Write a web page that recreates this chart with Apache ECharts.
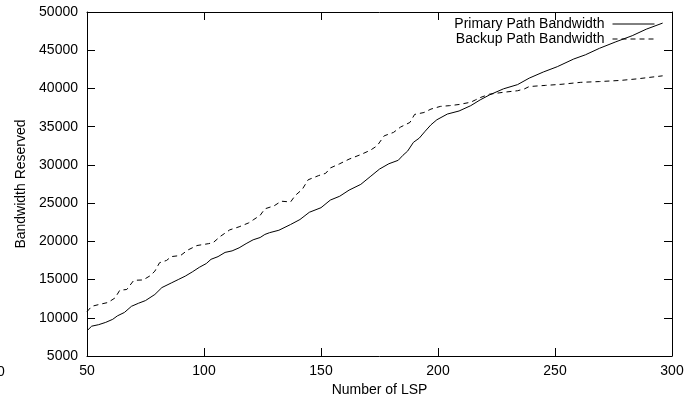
<!DOCTYPE html>
<html>
<head>
<meta charset="utf-8">
<script src="https://cdn.jsdelivr.net/npm/echarts@6/dist/echarts.min.js"></script>
<style>
html, body { margin: 0; padding: 0; background: #fff; }
#chart { width: 699px; height: 402px; }
</style>
</head>
<body>
<div id="chart"></div>
<script>
// LSP count / bandwidth
const lspPrimary = [50, 52, 55, 58, 61, 63, 66, 69, 72, 75, 79, 82, 86, 89, 92, 95, 98, 101, 103, 106,
    109, 112, 115, 118, 121, 124, 126, 128, 132, 137, 141, 145, 150, 154, 158, 162, 167, 171, 175, 179,
    183, 185, 187, 189.5, 192, 194.5, 197, 199.5, 204, 209, 214, 218, 222, 228, 234, 239, 245, 251, 258,
    263, 269, 276, 283, 289, 296];
const bwPrimary = [8300, 8900, 9100, 9400, 9800, 10250, 10700, 11500, 11900, 12250, 13050, 13950, 14550,
    15000, 15450, 16000, 16600, 17100, 17650, 18000, 18550, 18750, 19150, 19700, 20200, 20500, 20900,
    21130, 21450, 22200, 22850, 23800, 24400, 25400, 25900, 26700, 27450, 28450, 29450, 30150, 30600,
    31250, 31800, 32950, 33500, 34400, 35250, 35900, 36650, 37050, 37750, 38500, 39150, 39950, 40500,
    41350, 42150, 42850, 43850, 44400, 45250, 46100, 46900, 47750, 48550];

const lspBackup = [50, 52, 56, 59, 62, 64, 67, 70, 74, 77, 79, 81, 84, 86, 90, 93, 97, 102, 104, 107,
    111, 115, 119, 121, 124, 126, 130, 133, 137, 139, 142, 144.5, 149, 152, 154, 158, 162, 167, 171, 174,
    177, 181, 184, 188, 190, 194, 197, 201, 205, 209, 214, 216, 218, 222, 228, 234, 237, 239, 246, 253,
    261, 269, 278, 285, 296];
const bwBackup = [10800, 11500, 11800, 12000, 12600, 13600, 13700, 14900, 14950, 15500, 16100, 17200,
    17500, 18000, 18150, 18850, 19450, 19700, 19850, 20650, 21500, 21900, 22400, 22800, 23400, 24250,
    24650, 25250, 25150, 26000, 26800, 28050, 28600, 28900, 29600, 30150, 30750, 31350, 31900, 32500,
    33800, 34250, 34950, 35550, 36600, 36850, 37300, 37650, 37750, 37900, 38200, 38500, 38800, 39250,
    39500, 39700, 39950, 40250, 40400, 40550, 40800, 40900, 41050, 41250, 41650];

const seriesNames = ['Primary Path Bandwidth', 'Backup Path Bandwidth'];

const font = 'Liberation Sans, Arial, sans-serif';
const pairs = (xs, ys) => xs.map((x, i) => [x, ys[i]]);

const axisLine = { show: true, lineStyle: { color: '#000', width: 1 } };
const tick = { show: true, inside: true, length: 8, lineStyle: { color: '#000', width: 1 } };
const plain = v => String(v);

const option = {
    animation: false,
    backgroundColor: '#fff',
    grid: { left: 87, right: 27, top: 12, bottom: 45 },
    legend: {
        orient: 'vertical',
        right: 44,
        top: 17,
        padding: 0,
        align: 'right',
        itemWidth: 42,
        itemHeight: 10,
        itemGap: 1,
        itemStyle: { opacity: 0 },
        lineStyle: { width: 1 },
        textStyle: { fontFamily: font, fontSize: 14, color: '#000', padding: [0, 3, 0, 0] },
        data: seriesNames
    },
    xAxis: [
        {
            type: 'value', min: 50, max: 300, interval: 50,
            name: 'Number of LSP', nameLocation: 'middle', nameGap: 27,
            nameTextStyle: { fontFamily: font, fontSize: 14, color: '#000' },
            axisLine, axisTick: tick, splitLine: { show: false },
            axisLabel: { fontFamily: font, fontSize: 14, color: '#000', margin: 8, formatter: plain }
        },
        {
            type: 'value', position: 'top', min: 50, max: 300, interval: 50,
            axisLine, axisTick: tick, splitLine: { show: false }, axisLabel: { show: false }
        }
    ],
    yAxis: [
        {
            type: 'value', min: 5000, max: 50000, interval: 5000,
            name: 'Bandwidth Reserved', nameLocation: 'middle', nameGap: 58,
            nameTextStyle: { fontFamily: font, fontSize: 14, color: '#000' },
            axisLine, axisTick: tick, splitLine: { show: false },
            axisLabel: { fontFamily: font, fontSize: 14, color: '#000', margin: 9, formatter: plain }
        },
        {
            type: 'value', position: 'right', min: 5000, max: 50000, interval: 5000,
            axisLine, axisTick: tick, splitLine: { show: false }, axisLabel: { show: false }
        }
    ],
    graphic: [
        { type: 'text', left: -3, top: 365, style: { text: '0', fontFamily: font, fontSize: 14, fill: '#000' } }
    ],
    series: [
        {
            name: seriesNames[0], type: 'line', symbol: 'none',
            lineStyle: { color: '#000', width: 1 }, itemStyle: { color: '#000' },
            data: pairs(lspPrimary, bwPrimary)
        },
        {
            name: seriesNames[1], type: 'line', symbol: 'none',
            lineStyle: { color: '#000', width: 1, type: [5, 4] }, itemStyle: { color: '#000' },
            data: pairs(lspBackup, bwBackup)
        }
    ]
};

const chart = echarts.init(document.getElementById('chart'));
chart.setOption(option);
</script>
</body>
</html>
